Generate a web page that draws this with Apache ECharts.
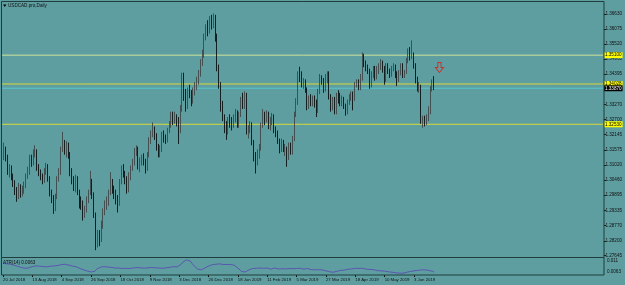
<!DOCTYPE html>
<html><head><meta charset="utf-8">
<script src="https://cdn.jsdelivr.net/npm/echarts@6/dist/echarts.min.js"></script>
<style>html,body{margin:0;padding:0;background:#5f9ea0;}#c{width:625px;height:285px;}</style>
</head><body><div id="c"></div>
<script>
const chartTitle = 'USDCAD.pro,Daily';
const atrTitle = 'ATR(14) 0.0063';
const firstDate = [2018, 6, 20];
const holidays = ['2018-12-25', '2019-01-01'];
const barCount = 236;
const emptySlots = 92;
const dateTicks = ['20 Jul 2018','13 Aug 2018','4 Sep 2018','26 Sep 2018','18 Oct 2018','9 Nov 2018','3 Dec 2018','26 Dec 2018','18 Jan 2019','11 Feb 2019','5 Mar 2019','27 Mar 2019','18 Apr 2019','10 May 2019','3 Jun 2019'];
const priceTicks = [1.36630,1.36075,1.35520,1.34960,1.34395,1.33835,1.33270,1.32700,1.32145,1.31575,1.31020,1.30460,1.29895,1.29335,1.28770,1.28200,1.27645];
const atrTicks = [0.011, 0.0063];

const opens = [
1.3270,1.3145,1.3160,1.3130,1.3075,1.3085,1.3060,1.3035,1.3005,1.2990,
1.3020,1.2995,1.3010,1.3025,1.3060,1.3075,1.3125,1.3110,1.3145,1.3155,
1.3090,1.3075,1.3060,1.3045,1.3075,1.3095,1.3050,1.2995,1.2975,1.2945,
1.2985,1.3050,1.3075,1.3160,1.3180,1.3160,1.3175,1.3140,1.3075,1.3045,
1.3015,1.3050,1.3000,1.2960,1.2955,1.2920,1.2935,1.2975,1.3000,1.3040,
1.2990,1.2915,1.2810,1.2845,1.2830,1.2880,1.2925,1.2955,1.2965,1.3000,
1.3035,1.3015,1.2995,1.2975,1.2960,1.3040,1.3085,1.3070,1.3045,1.3010,
1.3060,1.3090,1.3110,1.3150,1.3165,1.3095,1.3115,1.3125,1.3115,1.3090,
1.3140,1.3195,1.3215,1.3235,1.3210,1.3165,1.3140,1.3160,1.3215,1.3200,
1.3195,1.3230,1.3255,1.3290,1.3265,1.3280,1.3270,1.3230,1.3310,1.3375,
1.3360,1.3320,1.3380,1.3365,1.3340,1.3375,1.3395,1.3415,1.3445,1.3480,
1.3510,1.3575,1.3610,1.3600,1.3640,1.3620,1.3635,1.3575,1.3460,1.3400,
1.3320,1.3280,1.3245,1.3230,1.3270,1.3265,1.3250,1.3275,1.3295,1.3250,
1.3290,1.3345,1.3320,1.3360,1.3225,1.3235,1.3250,1.3185,1.3130,1.3115,
1.3140,1.3165,1.3250,1.3285,1.3275,1.3290,1.3245,1.3265,1.3280,1.3235,
1.3220,1.3190,1.3160,1.3185,1.3160,1.3165,1.3130,1.3175,1.3150,1.3200,
1.3290,1.3335,1.3440,1.3435,1.3410,1.3410,1.3380,1.3320,1.3345,1.3335,
1.3350,1.3330,1.3305,1.3375,1.3420,1.3415,1.3385,1.3430,1.3440,1.3355,
1.3315,1.3345,1.3300,1.3360,1.3355,1.3330,1.3345,1.3320,1.3300,1.3335,
1.3355,1.3365,1.3350,1.3400,1.3410,1.3390,1.3425,1.3500,1.3475,1.3460,
1.3450,1.3400,1.3440,1.3460,1.3430,1.3450,1.3465,1.3480,1.3460,1.3415,
1.3470,1.3450,1.3440,1.3460,1.3470,1.3440,1.3420,1.3445,1.3470,1.3435,
1.3445,1.3490,1.3525,1.3510,1.3510,1.3470,1.3420,1.3390,1.3395,1.3270,
1.3275,1.3260,1.3275,1.3300,1.3385,1.3410];
const highs = [
1.3295,1.3185,1.3170,1.3140,1.3105,1.3100,1.3070,1.3045,1.3020,1.3035,
1.3030,1.3025,1.3040,1.3070,1.3095,1.3140,1.3140,1.3160,1.3175,1.3160,
1.3105,1.3085,1.3070,1.3090,1.3110,1.3105,1.3060,1.3010,1.2990,1.2995,
1.3060,1.3090,1.3170,1.3225,1.3195,1.3190,1.3185,1.3150,1.3090,1.3060,
1.3065,1.3060,1.3010,1.2985,1.2970,1.2950,1.2985,1.3010,1.3080,1.3050,
1.3000,1.2925,1.2860,1.2860,1.2895,1.2940,1.2970,1.2985,1.3010,1.3075,
1.3050,1.3025,1.3010,1.2990,1.3050,1.3100,1.3105,1.3080,1.3060,1.3075,
1.3100,1.3125,1.3165,1.3175,1.3170,1.3130,1.3140,1.3145,1.3125,1.3150,
1.3205,1.3230,1.3260,1.3245,1.3220,1.3180,1.3175,1.3225,1.3230,1.3215,
1.3240,1.3265,1.3300,1.3300,1.3300,1.3290,1.3280,1.3325,1.3445,1.3445,
1.3385,1.3390,1.3400,1.3380,1.3390,1.3410,1.3430,1.3455,1.3495,1.3530,
1.3590,1.3625,1.3640,1.3655,1.3660,1.3665,1.3660,1.3590,1.3475,1.3410,
1.3340,1.3290,1.3265,1.3280,1.3290,1.3280,1.3290,1.3310,1.3305,1.3300,
1.3355,1.3370,1.3375,1.3370,1.3250,1.3265,1.3260,1.3195,1.3150,1.3160,
1.3180,1.3260,1.3310,1.3300,1.3305,1.3300,1.3280,1.3295,1.3290,1.3245,
1.3230,1.3200,1.3200,1.3195,1.3180,1.3170,1.3185,1.3185,1.3210,1.3300,
1.3350,1.3450,1.3467,1.3450,1.3425,1.3420,1.3390,1.3360,1.3365,1.3360,
1.3360,1.3345,1.3385,1.3440,1.3435,1.3425,1.3440,1.3450,1.3450,1.3365,
1.3355,1.3355,1.3370,1.3380,1.3370,1.3360,1.3355,1.3330,1.3345,1.3365,
1.3375,1.3375,1.3410,1.3420,1.3420,1.3440,1.3520,1.3515,1.3490,1.3475,
1.3460,1.3450,1.3470,1.3470,1.3470,1.3480,1.3495,1.3490,1.3470,1.3480,
1.3480,1.3460,1.3470,1.3480,1.3475,1.3450,1.3455,1.3480,1.3480,1.3455,
1.3500,1.3535,1.3540,1.3565,1.3520,1.3480,1.3430,1.3410,1.3400,1.3285,
1.3285,1.3290,1.3320,1.3395,1.3420,1.3432];
const lows = [
1.3125,1.3120,1.3115,1.3065,1.3055,1.3045,1.3020,1.2990,1.2965,1.2975,
1.2980,1.2985,1.2995,1.3015,1.3050,1.3065,1.3095,1.3100,1.3130,1.3080,
1.3060,1.3045,1.3030,1.3035,1.3065,1.3040,1.2985,1.2960,1.2920,1.2930,
1.2975,1.3040,1.3065,1.3150,1.3140,1.3130,1.3125,1.3060,1.3030,1.3005,
1.3000,1.2990,1.2940,1.2935,1.2895,1.2905,1.2925,1.2960,1.2990,1.2975,
1.2905,1.2785,1.2795,1.2800,1.2815,1.2865,1.2915,1.2935,1.2950,1.2990,
1.2995,1.2975,1.2955,1.2925,1.2950,1.3030,1.3055,1.3030,1.2995,1.3000,
1.3045,1.3080,1.3100,1.3135,1.3085,1.3075,1.3100,1.3100,1.3070,1.3080,
1.3130,1.3180,1.3205,1.3195,1.3155,1.3130,1.3130,1.3150,1.3185,1.3180,
1.3185,1.3220,1.3240,1.3250,1.3255,1.3245,1.3180,1.3220,1.3300,1.3340,
1.3300,1.3310,1.3350,1.3320,1.3330,1.3360,1.3380,1.3400,1.3430,1.3470,
1.3500,1.3565,1.3580,1.3590,1.3605,1.3610,1.3560,1.3450,1.3385,1.3300,
1.3265,1.3220,1.3195,1.3215,1.3240,1.3230,1.3240,1.3260,1.3240,1.3240,
1.3280,1.3310,1.3310,1.3215,1.3200,1.3220,1.3175,1.3115,1.3070,1.3100,
1.3125,1.3155,1.3240,1.3250,1.3260,1.3235,1.3230,1.3250,1.3220,1.3205,
1.3180,1.3145,1.3150,1.3150,1.3135,1.3095,1.3120,1.3140,1.3140,1.3190,
1.3280,1.3325,1.3410,1.3390,1.3385,1.3370,1.3305,1.3310,1.3320,1.3320,
1.3315,1.3280,1.3295,1.3365,1.3400,1.3370,1.3375,1.3405,1.3345,1.3300,
1.3305,1.3290,1.3290,1.3330,1.3320,1.3320,1.3310,1.3285,1.3290,1.3325,
1.3340,1.3305,1.3340,1.3390,1.3380,1.3380,1.3415,1.3465,1.3450,1.3440,
1.3385,1.3390,1.3425,1.3415,1.3420,1.3440,1.3455,1.3445,1.3400,1.3410,
1.3440,1.3425,1.3430,1.3450,1.3425,1.3395,1.3410,1.3435,1.3425,1.3425,
1.3440,1.3480,1.3490,1.3495,1.3460,1.3405,1.3375,1.3370,1.3255,1.3240,
1.3245,1.3250,1.3265,1.3290,1.3375,1.3380];
const closes = [
1.3145,1.3160,1.3130,1.3075,1.3085,1.3060,1.3035,1.3005,1.2990,1.3020,
1.2995,1.3010,1.3025,1.3060,1.3075,1.3125,1.3110,1.3145,1.3155,1.3090,
1.3075,1.3060,1.3045,1.3075,1.3095,1.3050,1.2995,1.2975,1.2945,1.2985,
1.3050,1.3075,1.3160,1.3180,1.3160,1.3175,1.3140,1.3075,1.3045,1.3015,
1.3050,1.3000,1.2960,1.2955,1.2920,1.2935,1.2975,1.3000,1.3040,1.2990,
1.2915,1.2810,1.2845,1.2830,1.2880,1.2925,1.2955,1.2965,1.3000,1.3035,
1.3015,1.2995,1.2975,1.2960,1.3040,1.3085,1.3070,1.3045,1.3010,1.3060,
1.3090,1.3110,1.3150,1.3165,1.3095,1.3115,1.3125,1.3115,1.3090,1.3140,
1.3195,1.3215,1.3235,1.3210,1.3165,1.3140,1.3160,1.3215,1.3200,1.3195,
1.3230,1.3255,1.3290,1.3265,1.3280,1.3275,1.3230,1.3310,1.3375,1.3360,
1.3320,1.3380,1.3365,1.3340,1.3375,1.3395,1.3415,1.3445,1.3480,1.3510,
1.3575,1.3610,1.3600,1.3640,1.3620,1.3635,1.3575,1.3460,1.3400,1.3320,
1.3280,1.3245,1.3230,1.3270,1.3265,1.3250,1.3275,1.3295,1.3250,1.3290,
1.3345,1.3320,1.3360,1.3225,1.3235,1.3250,1.3185,1.3130,1.3115,1.3140,
1.3165,1.3250,1.3285,1.3275,1.3290,1.3245,1.3265,1.3280,1.3235,1.3220,
1.3190,1.3160,1.3185,1.3160,1.3165,1.3130,1.3175,1.3150,1.3200,1.3290,
1.3335,1.3440,1.3435,1.3410,1.3410,1.3380,1.3320,1.3345,1.3335,1.3350,
1.3330,1.3305,1.3375,1.3420,1.3415,1.3385,1.3430,1.3440,1.3355,1.3315,
1.3345,1.3300,1.3360,1.3355,1.3330,1.3345,1.3320,1.3300,1.3335,1.3355,
1.3365,1.3350,1.3400,1.3410,1.3390,1.3425,1.3500,1.3475,1.3460,1.3450,
1.3400,1.3440,1.3460,1.3430,1.3450,1.3465,1.3480,1.3460,1.3415,1.3470,
1.3450,1.3440,1.3460,1.3470,1.3440,1.3420,1.3445,1.3470,1.3435,1.3445,
1.3490,1.3525,1.3510,1.3510,1.3470,1.3420,1.3390,1.3395,1.3270,1.3275,
1.3260,1.3275,1.3300,1.3385,1.3410,1.3387];
const atr = [
.0100,.0099,.0098,.0097,.0096,.0094,.0092,.0090,.0087,.0085,
.0082,.0080,.0079,.0080,.0081,.0084,.0086,.0087,.0089,.0088,
.0088,.0087,.0086,.0087,.0085,.0086,.0088,.0087,.0089,.0090,
.0091,.0093,.0095,.0097,.0096,.0094,.0092,.0090,.0088,.0086,
.0085,.0082,.0078,.0075,.0072,.0070,.0067,.0065,.0063,.0062,
.0066,.0075,.0080,.0083,.0085,.0086,.0085,.0084,.0082,.0083,
.0081,.0080,.0079,.0080,.0078,.0078,.0077,.0079,.0080,.0078,
.0079,.0080,.0081,.0082,.0082,.0081,.0080,.0079,.0080,.0081,
.0080,.0082,.0083,.0081,.0080,.0080,.0078,.0079,.0080,.0081,
.0082,.0083,.0085,.0086,.0088,.0085,.0089,.0096,.0105,.0112,
.0115,.0117,.0110,.0100,.0090,.0082,.0076,.0072,.0072,.0075,
.0080,.0085,.0088,.0092,.0094,.0095,.0096,.0097,.0098,.0096,
.0095,.0096,.0095,.0094,.0095,.0094,.0092,.0088,.0080,.0072,
.0065,.0062,.0063,.0068,.0072,.0075,.0078,.0080,.0079,.0080,
.0080,.0081,.0079,.0078,.0080,.0077,.0075,.0078,.0080,.0079,
.0076,.0074,.0077,.0079,.0076,.0074,.0078,.0080,.0077,.0076,
.0078,.0080,.0079,.0077,.0075,.0076,.0078,.0075,.0073,.0074,
.0072,.0070,.0073,.0075,.0072,.0069,.0068,.0066,.0064,.0063,
.0062,.0064,.0066,.0068,.0070,.0072,.0071,.0073,.0075,.0077,
.0076,.0078,.0079,.0080,.0078,.0080,.0079,.0077,.0075,.0076,
.0074,.0072,.0073,.0071,.0069,.0070,.0068,.0066,.0067,.0065,
.0064,.0063,.0062,.0061,.0060,.0059,.0058,.0057,.0058,.0060,
.0062,.0063,.0065,.0067,.0068,.0069,.0070,.0071,.0072,.0073,
.0072,.0071,.0070,.0068,.0066,.0063];

const levelPrices = [1.35100, 1.34028, 1.32530, 1.33870];
const levelColors = ['#cfe39a', '#d8d83a', '#d8d83a', '#57c7cf'];
const levelLabelBg = ['#ffff00', '#ffff00', '#ffff00', '#000000'];
const levelLabelFg = ['#000000', '#000000', '#000000', '#ffffff'];
const arrowAt = {bar: 238, price: 1.3464};

// calendar of trading days
const months = ['Jan','Feb','Mar','Apr','May','Jun','Jul','Aug','Sep','Oct','Nov','Dec'];
const cats = [];
const d = new Date(Date.UTC(firstDate[0], firstDate[1], firstDate[2]));
while (cats.length < barCount) {
  const dow = d.getUTCDay();
  const iso = d.toISOString().slice(0, 10);
  if (dow !== 0 && dow !== 6 && holidays.indexOf(iso) < 0) {
    cats.push(d.getUTCDate() + ' ' + months[d.getUTCMonth()] + ' ' + d.getUTCFullYear());
  }
  d.setUTCDate(d.getUTCDate() + 1);
}
for (let k = 0; k < emptySlots; k++) cats.push('');

const candles = opens.map((o, i) => [o, closes[i], lows[i], highs[i]]);
const FONT = 'Liberation Sans';
const TXT = '#101010';
const isTick = (idx, val) => dateTicks.indexOf(val) >= 0;
const lastSlot = cats.length - 1;

const levelSeries = levelPrices.map((p, k) => ({
  type: 'line', xAxisIndex: 0, yAxisIndex: 0, silent: true, symbol: 'none', z: 3,
  data: [[0, p], [lastSlot, p]],
  lineStyle: {color: levelColors[k], width: 1},
  endLabel: {show: true, distance: 1, formatter: p.toFixed(5), backgroundColor: levelLabelBg[k], color: levelLabelFg[k],
    fontSize: 4.6, fontFamily: FONT, padding: [1, 1, 0, 1]}
}));

const chart = echarts.init(document.getElementById('c'), null, {renderer: 'canvas'});
chart.setOption({
  animation: false,
  backgroundColor: '#5f9ea0',
  grid: [
    {left: 1.2, top: 2, width: 602.7, height: 255},
    {left: 1.2, top: 258, width: 602.7, height: 17}
  ],
  xAxis: [
    {type: 'category', gridIndex: 0, data: cats, boundaryGap: true,
      axisLine: {show: false}, axisTick: {show: false}, axisLabel: {show: false}, splitLine: {show: false}},
    {type: 'category', gridIndex: 1, data: cats, boundaryGap: true, position: 'bottom',
      axisLine: {show: false},
      axisTick: {show: true, alignWithLabel: true, interval: isTick, length: 2, lineStyle: {color: TXT}},
      axisLabel: {show: true, interval: isTick, align: 'left', margin: 2.5, fontSize: 4.3, fontFamily: FONT, color: TXT},
      splitLine: {show: false}}
  ],
  yAxis: [
    {type: 'value', gridIndex: 0, position: 'right', min: 1.27597, max: 1.37076,
      axisLine: {show: false}, splitLine: {show: false},
      axisTick: {show: true, length: 2, customValues: priceTicks, lineStyle: {color: TXT}},
      axisLabel: {show: true, customValues: priceTicks, margin: 1.5, fontSize: 4.6, fontFamily: FONT, color: TXT,
        formatter: v => v.toFixed(5)}},
    {type: 'value', gridIndex: 1, position: 'right', min: 0.00502, max: 0.01228,
      axisLine: {show: false}, splitLine: {show: false},
      axisTick: {show: false},
      axisLabel: {show: true, customValues: atrTicks, margin: 3, fontSize: 4.6, fontFamily: FONT, color: TXT,
        formatter: v => String(v)}}
  ],
  series: [
    {type: 'candlestick', xAxisIndex: 0, yAxisIndex: 0, data: candles, barWidth: 1.3, z: 4,
      itemStyle: {color: '#7c7c7c', color0: '#000000', borderColor: '#3c3c3c', borderColor0: '#000000', borderWidth: 0.8},
      markPoint: {silent: true, animation: false, data: [{
        coord: [arrowAt.bar, arrowAt.price],
        symbol: 'path://M3,0 L7,0 L7,6 L10,6 L5,12 L0,6 L3,6 Z', symbolSize: [8, 10],
        itemStyle: {color: 'rgba(0,0,0,0)', borderColor: '#c8302c', borderWidth: 1},
        label: {show: false}
      }]}
    },
    ...levelSeries,
    {type: 'line', xAxisIndex: 1, yAxisIndex: 1, data: atr, showSymbol: false, symbol: 'none',
      lineStyle: {color: '#5a55b0', width: 1}}
  ],
  graphic: [
    {type: 'rect', shape: {x: 1.5, y: 1.5, width: 602.5, height: 256}, style: {fill: 'none', stroke: '#1f3d3d', lineWidth: 1}, silent: true, z: 100},
    {type: 'rect', shape: {x: 1.5, y: 257.5, width: 602.5, height: 17.5}, style: {fill: 'none', stroke: '#1f3d3d', lineWidth: 1}, silent: true, z: 100},
    {type: 'polygon', shape: {points: [[3, 4.5], [6.5, 4.5], [4.75, 7]]}, style: {fill: '#000'}, z: 100},
    {type: 'text', left: 8, top: 3.5, style: {text: chartTitle, font: '4.6px ' + FONT, fill: TXT}, z: 100},
    {type: 'text', left: 3, top: 260, style: {text: atrTitle, font: '4.6px ' + FONT, fill: TXT}, z: 100}
  ]
});
</script></body></html>
